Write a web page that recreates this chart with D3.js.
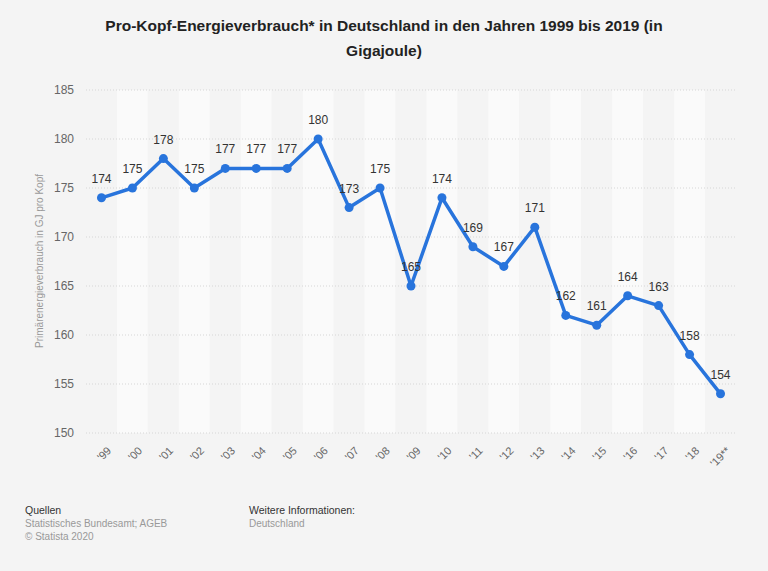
<!DOCTYPE html>
<html>
<head>
<meta charset="utf-8">
<script src="https://cdn.jsdelivr.net/npm/d3@7"></script>
<style>
  body { margin: 0; background: #f4f4f4; }
  svg { font-family: "Liberation Sans", Arial, sans-serif; display: block; }
</style>
</head>
<body>
<svg></svg>
<script>
var width = 768,
    height = 571

// data
var years = ["'99", "'00", "'01", "'02", "'03", "'04", "'05", "'06", "'07", "'08", "'09",
             "'10", "'11", "'12", "'13", "'14", "'15", "'16", "'17", "'18", "'19**"]
var values = [174, 175, 178, 175, 177, 177, 177, 180, 173, 175, 165,
              174, 169, 167, 171, 162, 161, 164, 163, 158, 154]
var yTicks = [150, 155, 160, 165, 170, 175, 180, 185]

var svg = d3.select("svg").attr("width", width).attr("height", height)

svg.append("rect").attr("width", width).attr("height", height).attr("fill", "#f4f4f4")

var x = d3.scaleBand().domain(years).range([86, 736])
var y = d3.scaleLinear().domain([150, 185]).range([433, 90])

// alternating column bands
svg.selectAll("rect.band")
  .data(years)
  .enter().append("rect")
  .attr("class", "band")
  .attr("x", function(d) { return x(d) })
  .attr("y", y(185))
  .attr("width", x.bandwidth())
  .attr("height", y(150) - y(185))
  .attr("fill", function(d, i) { return i % 2 ? "#fafafa" : "#f4f4f4" })

// grid lines
svg.selectAll("line.grid")
  .data(yTicks)
  .enter().append("line")
  .attr("x1", 86).attr("x2", 736)
  .attr("y1", function(d) { return y(d) })
  .attr("y2", function(d) { return y(d) })
  .attr("stroke", "#d6d6d6")
  .attr("stroke-width", 1)
  .attr("stroke-dasharray", "1,2")

// y axis labels
var yAxis = svg.append("g")
  .attr("transform", "translate(74,0)")
  .call(d3.axisLeft(y).tickValues(yTicks).tickSize(0).tickPadding(0))
yAxis.select(".domain").remove()
yAxis.selectAll("text")
  .attr("fill", "#666")
  .attr("font-size", 12)
  .style("font-family", "Liberation Sans, Arial, sans-serif")

// x axis labels
var xAxis = svg.append("g")
  .attr("transform", "translate(0,443)")
  .call(d3.axisBottom(x).tickSize(0).tickPadding(0))
xAxis.select(".domain").remove()
xAxis.selectAll("text")
  .attr("fill", "#666")
  .attr("font-size", 11)
  .style("font-family", "Liberation Sans, Arial, sans-serif")
  .attr("text-anchor", "end")
  .attr("dy", "0.7em")
  .attr("transform", "translate(5,3) rotate(-45)")

// line
var line = d3.line()
  .x(function(d, i) { return x(years[i]) + x.bandwidth() / 2 })
  .y(function(d) { return y(d) })

svg.append("path")
  .datum(values)
  .attr("d", line)
  .attr("fill", "none")
  .attr("stroke", "#2874dc")
  .attr("stroke-width", 3.5)
  .attr("stroke-linejoin", "round")

svg.selectAll("circle")
  .data(values)
  .enter().append("circle")
  .attr("cx", function(d, i) { return x(years[i]) + x.bandwidth() / 2 })
  .attr("cy", function(d) { return y(d) })
  .attr("r", 4.5)
  .attr("fill", "#2874dc")

svg.selectAll("text.val")
  .data(values)
  .enter().append("text")
  .attr("class", "val")
  .attr("x", function(d, i) { return x(years[i]) + x.bandwidth() / 2 })
  .attr("y", function(d) { return y(d) - 15 })
  .attr("text-anchor", "middle")
  .attr("font-size", 12)
  .attr("fill", "#333")
  .text(function(d) { return d })

// title
var title = svg.append("text")
  .attr("text-anchor", "middle")
  .attr("font-size", 15.5)
  .attr("font-weight", "bold")
  .attr("fill", "#222")
title.append("tspan").attr("x", 384).attr("y", 31)
  .text("Pro-Kopf-Energieverbrauch* in Deutschland in den Jahren 1999 bis 2019 (in")
title.append("tspan").attr("x", 384).attr("y", 56)
  .text("Gigajoule)")

// y axis title
svg.append("text")
  .attr("transform", "translate(43,261) rotate(-90)")
  .attr("text-anchor", "middle")
  .attr("font-size", 10)
  .attr("fill", "#999")
  .text("Primärenergieverbrauch in GJ pro Kopf")

// footer
svg.append("text").attr("x", 25).attr("y", 514).attr("font-size", 10.5).attr("fill", "#333").text("Quellen")
svg.append("text").attr("x", 25).attr("y", 527).attr("font-size", 10).attr("fill", "#999").text("Statistisches Bundesamt; AGEB")
svg.append("text").attr("x", 25).attr("y", 540).attr("font-size", 10).attr("fill", "#999").text("© Statista 2020")
svg.append("text").attr("x", 249).attr("y", 514).attr("font-size", 10.5).attr("fill", "#333").text("Weitere Informationen:")
svg.append("text").attr("x", 249).attr("y", 527).attr("font-size", 10).attr("fill", "#999").text("Deutschland")
</script>
</body>
</html>
